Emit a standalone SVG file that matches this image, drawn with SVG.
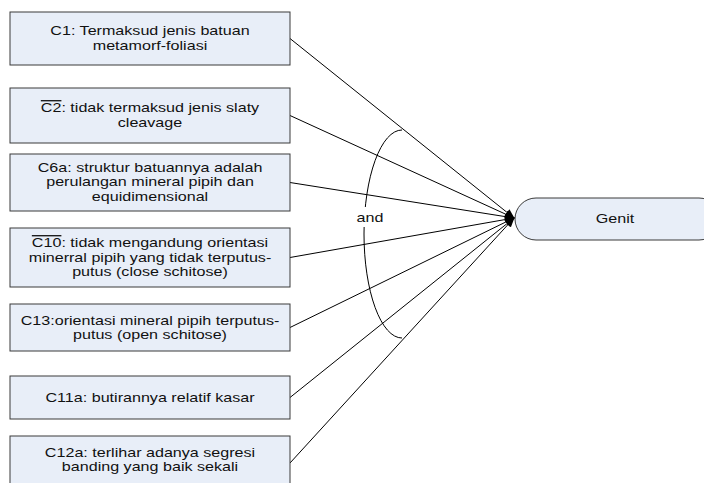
<svg xmlns="http://www.w3.org/2000/svg" width="704" height="483" viewBox="0 0 704 483">
  <defs>
    <marker id="arrow" markerWidth="10" markerHeight="8" refX="9" refY="4" orient="auto" markerUnits="userSpaceOnUse">
      <path d="M0,0 L10,4 L0,8 Z" fill="#000"/>
    </marker>
  </defs>
  <style>
    .box { fill: #e8eef8; stroke: #3a3a3a; stroke-width: 1; }
    .lbl { font-family: "Liberation Sans", Arial, sans-serif; font-size: 13px; fill: #111; text-anchor: middle; }
    .conn { stroke: #000; stroke-width: 1; fill: none; }
  </style>
  <rect width="704" height="483" fill="#fff"/>

  <!-- connectors from each condition to the conclusion -->
  <g id="connectors">
    <line class="conn" x1="290" y1="38.5" x2="514" y2="218" marker-end="url(#arrow)"/>
    <line class="conn" x1="290" y1="115.5" x2="514" y2="218" marker-end="url(#arrow)"/>
    <line class="conn" x1="290" y1="182.5" x2="514" y2="218" marker-end="url(#arrow)"/>
    <line class="conn" x1="290" y1="257.5" x2="514" y2="218" marker-end="url(#arrow)"/>
    <line class="conn" x1="290" y1="327.5" x2="514" y2="218" marker-end="url(#arrow)"/>
    <line class="conn" x1="290" y1="397.5" x2="514" y2="218" marker-end="url(#arrow)"/>
    <line class="conn" x1="290" y1="463" x2="514" y2="218" marker-end="url(#arrow)"/>
    <!-- conjunction arc -->
    <path class="conn" d="M402,130 A38,104 0 0 0 402,338"/>
    <rect x="354" y="207" width="32" height="20" fill="#fff"/>
    <g transform="translate(370,0) scale(1.24,1)"><text class="lbl" x="0" y="222">and</text></g>
  </g>

  <g id="c1">
    <rect class="box" x="10" y="12" width="280" height="53"/>
    <g transform="translate(150,0) scale(1.24,1)">
      <text class="lbl" x="0" y="35.5">C1: Termaksud jenis batuan</text>
      <text class="lbl" x="0" y="50">metamorf-foliasi</text>
    </g>
  </g>

  <g id="c2">
    <rect class="box" x="10" y="88" width="280" height="55"/>
    <g transform="translate(150,0) scale(1.24,1)">
      <text class="lbl" x="0" y="112.5"><tspan text-decoration="overline">C2</tspan>: tidak termaksud jenis slaty</text>
      <text class="lbl" x="0" y="127">cleavage</text>
    </g>
  </g>

  <g id="c6a">
    <rect class="box" x="10" y="154" width="280" height="57"/>
    <g transform="translate(150,0) scale(1.24,1)">
      <text class="lbl" x="0" y="172">C6a: struktur batuannya adalah</text>
      <text class="lbl" x="0" y="186.5">perulangan mineral pipih dan</text>
      <text class="lbl" x="0" y="201">equidimensional</text>
    </g>
  </g>

  <g id="c10">
    <rect class="box" x="10" y="228" width="280" height="59"/>
    <g transform="translate(150,0) scale(1.24,1)">
      <text class="lbl" x="0" y="247.5"><tspan text-decoration="overline">C10</tspan>: tidak mengandung orientasi</text>
      <text class="lbl" x="0" y="262">minerral pipih yang tidak terputus-</text>
      <text class="lbl" x="0" y="276.5">putus (close schitose)</text>
    </g>
  </g>

  <g id="c13">
    <rect class="box" x="10" y="304" width="280" height="47"/>
    <g transform="translate(150,0) scale(1.24,1)">
      <text class="lbl" x="0" y="325">C13:orientasi mineral pipih terputus-</text>
      <text class="lbl" x="0" y="339.5">putus (open schitose)</text>
    </g>
  </g>

  <g id="c11a">
    <rect class="box" x="10" y="376" width="280" height="43"/>
    <g transform="translate(150,0) scale(1.24,1)">
      <text class="lbl" x="0" y="402">C11a: butirannya relatif kasar</text>
    </g>
  </g>

  <g id="c12a">
    <rect class="box" x="10" y="436" width="280" height="54"/>
    <g transform="translate(150,0) scale(1.24,1)">
      <text class="lbl" x="0" y="457">C12a: terlihar adanya segresi</text>
      <text class="lbl" x="0" y="471.5">banding yang baik sekali</text>
    </g>
  </g>

  <g id="genit">
    <rect class="box" x="515" y="198" width="205" height="42" rx="21" ry="21"/>
    <g transform="translate(615,0) scale(1.24,1)">
      <text class="lbl" x="0" y="223.5">Genit</text>
    </g>
  </g>
</svg>
